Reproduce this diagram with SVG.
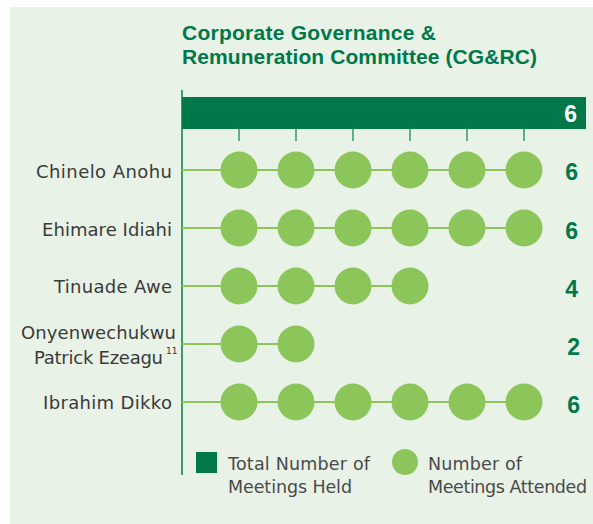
<svg xmlns="http://www.w3.org/2000/svg" width="593" height="524" viewBox="0 0 593 524">
<style>
.title{font-family:"Liberation Sans",Arial,sans-serif;font-weight:bold;font-size:21px;fill:#00784A}
.name{font-family:"DejaVu Sans","Liberation Sans",sans-serif;font-size:18px;fill:#3A3A3A;text-anchor:end}
.leg{font-family:"DejaVu Sans","Liberation Sans",sans-serif;font-size:17.5px;fill:#4A4A4A}
.num{font-family:"Liberation Sans",Arial,sans-serif;font-weight:bold;font-size:23px;fill:#00784A;text-anchor:end}
.dot{fill:#8CC65A}
.link{stroke:#8CC65A;stroke-width:2;fill:none}
.axis{stroke:#3E9B6F;stroke-width:2;fill:none}
.tick{stroke:#3E9B6F;stroke-width:1.6;fill:none}
</style>
<rect x="10" y="7" width="583" height="517" fill="#E8F2E6"/>
<g id="title">
<text class="title" x="182" y="40" textLength="254" lengthAdjust="spacing">Corporate Governance &amp;</text>
<text class="title" x="182" y="64" textLength="355" lengthAdjust="spacing">Remuneration Committee (CG&amp;RC)</text>
</g>
<g id="axis">
<line class="axis" x1="182" y1="90" x2="182" y2="475"/>
<rect x="182" y="97" width="404" height="32" fill="#00784A"/>
<text x="577" y="122" font-family="Liberation Sans, Arial, sans-serif" font-weight="bold" font-size="23" fill="#FFFFFF" text-anchor="end">6</text>
<g class="tick">
<line x1="239" y1="129" x2="239" y2="141"/>
<line x1="296" y1="129" x2="296" y2="141"/>
<line x1="353" y1="129" x2="353" y2="141"/>
<line x1="410" y1="129" x2="410" y2="141"/>
<line x1="467" y1="129" x2="467" y2="141"/>
<line x1="524" y1="129" x2="524" y2="141"/>
</g>
</g>
<g id="connectors">
<line class="link" x1="182" y1="170" x2="524" y2="170"/>
<line class="link" x1="182" y1="228" x2="524" y2="228"/>
<line class="link" x1="182" y1="286" x2="410" y2="286"/>
<line class="link" x1="182" y1="344" x2="296" y2="344"/>
<line class="link" x1="182" y1="402" x2="524" y2="402"/>
</g>
<g id="row-chinelo">
<text class="name" x="172" y="178" textLength="136" lengthAdjust="spacing">Chinelo Anohu</text>
<circle class="dot" cx="239" cy="170" r="18.5"/><circle class="dot" cx="296" cy="170" r="18.5"/><circle class="dot" cx="353" cy="170" r="18.5"/><circle class="dot" cx="410" cy="170" r="18.5"/><circle class="dot" cx="467" cy="170" r="18.5"/><circle class="dot" cx="524" cy="170" r="18.5"/>
<text class="num" x="578" y="180">6</text>
</g>
<g id="row-ehimare">
<text class="name" x="172" y="236" textLength="130" lengthAdjust="spacing">Ehimare Idiahi</text>
<circle class="dot" cx="239" cy="228" r="18.5"/><circle class="dot" cx="296" cy="228" r="18.5"/><circle class="dot" cx="353" cy="228" r="18.5"/><circle class="dot" cx="410" cy="228" r="18.5"/><circle class="dot" cx="467" cy="228" r="18.5"/><circle class="dot" cx="524" cy="228" r="18.5"/>
<text class="num" x="578" y="239">6</text>
</g>
<g id="row-tinuade">
<text class="name" x="172" y="293" textLength="118" lengthAdjust="spacing">Tinuade Awe</text>
<circle class="dot" cx="239" cy="286" r="18.5"/><circle class="dot" cx="296" cy="286" r="18.5"/><circle class="dot" cx="353" cy="286" r="18.5"/><circle class="dot" cx="410" cy="286" r="18.5"/>
<text class="num" x="578" y="297">4</text>
</g>
<g id="row-onyenwechukwu">
<text class="name" x="176" y="339" textLength="155" lengthAdjust="spacing">Onyenwechukwu</text>
<text class="name" x="163" y="364" textLength="129" lengthAdjust="spacing">Patrick Ezeagu</text>
<text x="166" y="354" font-family="DejaVu Sans, Liberation Sans, sans-serif" font-size="9" fill="#3A3A3A">11</text>
<circle class="dot" cx="239" cy="344" r="18.5"/><circle class="dot" cx="296" cy="344" r="18.5"/>
<text class="num" x="580" y="355">2</text>
</g>
<g id="row-ibrahim">
<text class="name" x="172" y="409" textLength="129" lengthAdjust="spacing">Ibrahim Dikko</text>
<circle class="dot" cx="239" cy="402" r="18.5"/><circle class="dot" cx="296" cy="402" r="18.5"/><circle class="dot" cx="353" cy="402" r="18.5"/><circle class="dot" cx="410" cy="402" r="18.5"/><circle class="dot" cx="467" cy="402" r="18.5"/><circle class="dot" cx="524" cy="402" r="18.5"/>
<text class="num" x="580" y="413">6</text>
</g>
<g id="legend-held">
<rect x="196" y="452" width="21" height="21" fill="#00784A"/>
<text class="leg" x="228" y="470" textLength="142" lengthAdjust="spacing">Total Number of</text>
<text class="leg" x="228" y="493" textLength="124" lengthAdjust="spacing">Meetings Held</text>
</g>
<g id="legend-attended">
<circle class="dot" cx="405" cy="462" r="13"/>
<text class="leg" x="428" y="470" textLength="94" lengthAdjust="spacing">Number of</text>
<text class="leg" x="428" y="493" textLength="159" lengthAdjust="spacing">Meetings Attended</text>
</g>
</svg>
